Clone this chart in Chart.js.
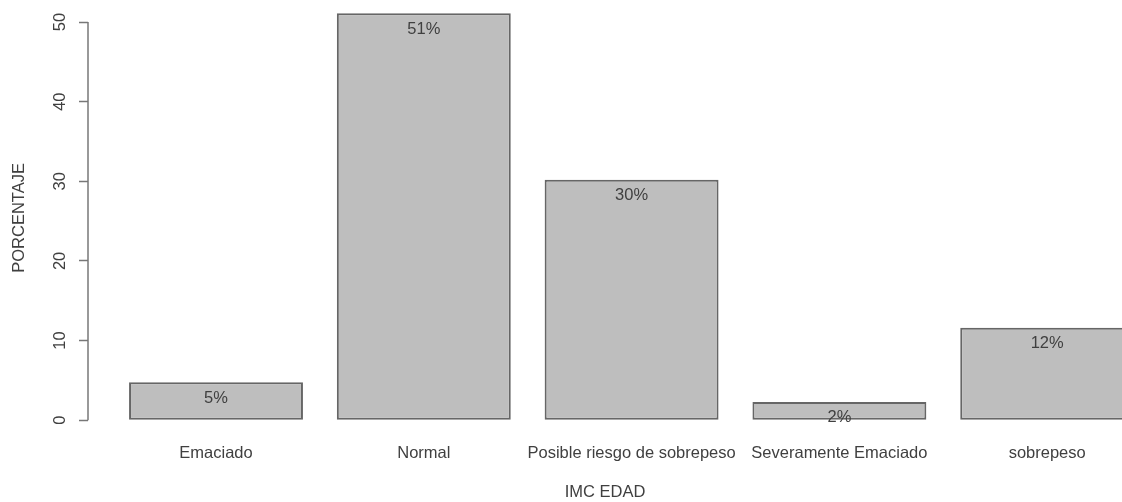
<!DOCTYPE html>
<html>
<head>
<meta charset="utf-8">
<script src="https://cdn.jsdelivr.net/npm/chart.js@4"></script>
<style>
    body { margin: 0; background: #fff; overflow: hidden; }
</style>
</head>
<body>
<canvas id="canvas" width="1122" height="502"></canvas>
<script>
categories = ['Emaciado', 'Normal', 'Posible riesgo de sobrepeso', 'Severamente Emaciado', 'sobrepeso']
porcentajes = [4.75, 51.1, 30.2, 2.3, 11.6]
etiquetas = ['5%', '51%', '30%', '2%', '12%']
yTicks = [0, 10, 20, 30, 40, 50]

const textColor = '#404040';
const axisColor = '#777';
const font = { family: '"Liberation Sans", Arial, sans-serif', size: 16.5 };

// percent text inside each bar, just below the top
const barLabels = {
    id: 'barLabels',
    afterDatasetsDraw(chart) {
        const ctx = chart.ctx;
        const meta = chart.getDatasetMeta(0);
        ctx.save();
        ctx.font = '16.5px "Liberation Sans", Arial, sans-serif';
        ctx.fillStyle = textColor;
        ctx.textAlign = 'center';
        ctx.textBaseline = 'middle';
        meta.data.forEach(function (bar, i) {
            ctx.fillText(etiquetas[i], bar.x, bar.y + 16);
        });
        ctx.restore();
    }
};

// R style axis line, only from first to last tick
const yAxisLine = {
    id: 'yAxisLine',
    afterDraw(chart) {
        const s = chart.scales.y;
        const ctx = chart.ctx;
        ctx.save();
        ctx.strokeStyle = axisColor;
        ctx.lineWidth = 1.5;
        ctx.beginPath();
        ctx.moveTo(s.right, s.getPixelForValue(yTicks[0]));
        ctx.lineTo(s.right, s.getPixelForValue(yTicks[yTicks.length - 1]));
        ctx.stroke();
        ctx.restore();
    }
};

const ctx = document.getElementById('canvas').getContext('2d');
const myChart = new Chart(ctx, {
    type: 'bar',
    data: {
        datasets: [{
            data: categories.map(function (c, i) { return { x: i, y: porcentajes[i] }; }),
            backgroundColor: '#bebebe',
            borderColor: '#666',
            borderWidth: 2,
            borderSkipped: false,
            barPercentage: 0.837,
            categoryPercentage: 1
        }]
    },
    options: {
        responsive: false,
        animation: false,
        layout: { padding: 0 },
        plugins: {
            legend: { display: false },
            tooltip: { enabled: false }
        },
        scales: {
            x: {
                type: 'linear',
                offset: false,
                min: -0.616,
                max: 4.36,
                afterBuildTicks: function (s) {
                    s.ticks = categories.map(function (c, i) { return { value: i }; });
                },
                afterFit: function (s) { s.paddingLeft = 0; s.paddingRight = 0; },
                border: { display: false },
                grid: { display: false, drawTicks: false },
                ticks: {
                    autoSkip: false,
                    maxRotation: 0,
                    padding: 8,
                    color: textColor,
                    font: font,
                    callback: function (v) { return categories[v]; }
                },
                title: {
                    display: true,
                    text: 'IMC EDAD',
                    color: textColor,
                    font: font,
                    padding: { top: 10.6, bottom: 0 }
                }
            },
            y: {
                min: -1.96,
                max: 52.77,
                afterBuildTicks: function (s) {
                    s.ticks = yTicks.map(function (v) { return { value: v }; });
                },
                afterFit: function (s) {
                    s.width = 88;
                    s.paddingTop = 0;
                    s.paddingBottom = 0;
                },
                border: { display: false },
                grid: {
                    drawOnChartArea: false,
                    tickLength: 9,
                    tickColor: axisColor,
                    tickWidth: 1.5
                },
                ticks: {
                    minRotation: 90,
                    maxRotation: 90,
                    crossAlign: 'center',
                    padding: 9,
                    color: textColor,
                    font: font
                },
                title: {
                    display: true,
                    text: 'PORCENTAJE',
                    color: textColor,
                    font: font,
                    padding: { top: 10, bottom: 0 }
                }
            }
        }
    },
    plugins: [barLabels, yAxisLine]
});
</script>
</body>
</html>
